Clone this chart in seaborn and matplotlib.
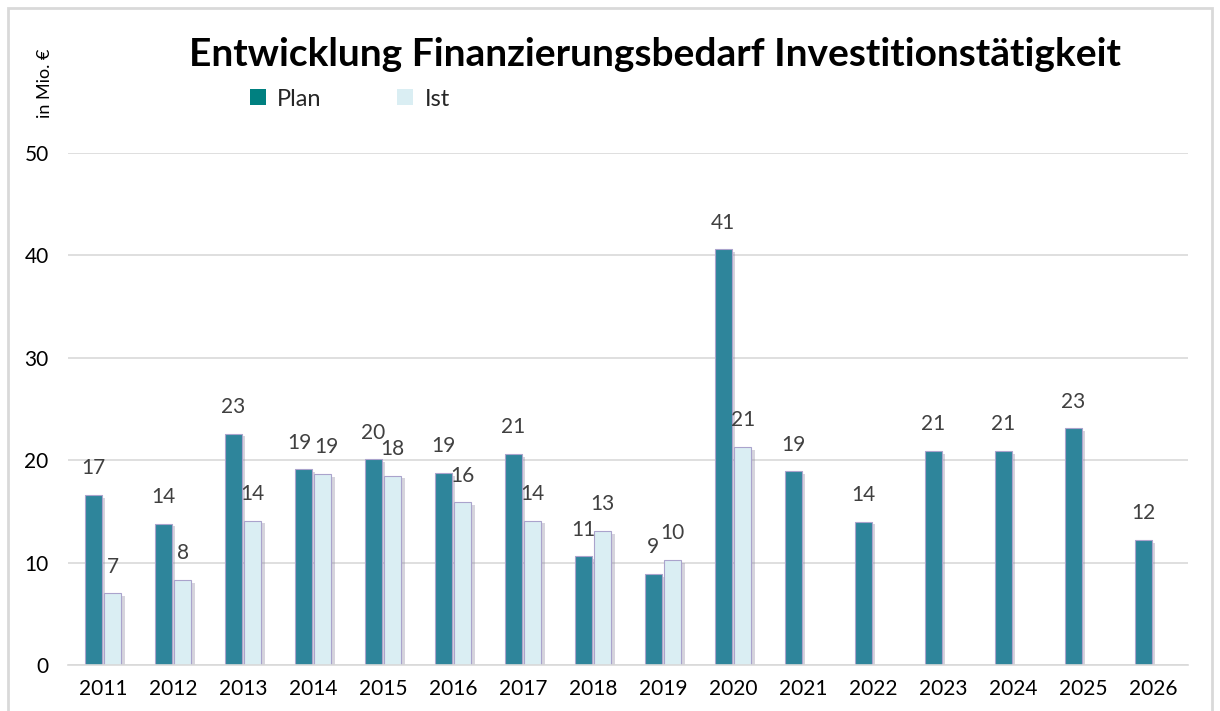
import matplotlib
matplotlib.use("Agg")
import matplotlib.pyplot as plt
import matplotlib.patheffects as pe
from matplotlib.patches import Rectangle, Patch
import seaborn as sns
import pandas as pd
import numpy as np

years = ["2011", "2012", "2013", "2014", "2015", "2016", "2017", "2018",
         "2019", "2020", "2021", "2022", "2023", "2024", "2025", "2026"]
plan = [16.6, 13.8, 22.6, 19.1, 20.1, 18.75, 20.6, 10.6, 8.9, 40.6,
        18.9, 14.0, 20.9, 20.9, 23.1, 12.2]
ist = [7.0, 8.3, 14.1, 18.65, 18.5, 15.9, 14.1, 13.1, 10.25, 21.3,
       np.nan, np.nan, np.nan, np.nan, np.nan, np.nan]
series = ["Plan", "Ist"]
colors = {"Plan": "#2e859b", "Ist": "#daeef3"}
legend_colors = {"Plan": "#008080", "Ist": "#daeef3"}

df = pd.DataFrame({
    "Jahr": years * 2,
    "Wert": plan + ist,
    "Serie": ["Plan"] * len(years) + ["Ist"] * len(years),
})

sns.set_theme(style="white")
plt.rcParams["font.family"] = ["Lato", "DejaVu Sans"]

fig = plt.figure(figsize=(12.2, 7.11), dpi=100)
ax = fig.add_axes([68 / 1220, 1 - 665 / 711, 1120 / 1220, 512 / 711])

sns.barplot(data=df, x="Jahr", y="Wert", hue="Serie", hue_order=series,
            palette=colors, saturation=1, width=0.55, gap=0.12, ax=ax, legend=False,
            edgecolor="#aaa3cc", linewidth=0.8)

shadow = [pe.SimplePatchShadow(offset=(2.5, -2), shadow_rgbFace="#8a86a0", alpha=0.35), pe.Normal()]
for k, (container, vals) in enumerate(zip(ax.containers, [plan, ist])):
    for i, (bar, v) in enumerate(zip(container, vals)):
        if np.isnan(v):
            continue
        bar.set_path_effects(shadow)
        dx = 0
        if not np.isnan(ist[i]) and abs(plan[i] - ist[i]) < 1.0:
            dx = -3 if k == 0 else 3
        ax.annotate(f"{v:.0f}", (bar.get_x() + bar.get_width() / 2, v),
                    xytext=(dx, 12), textcoords="offset points",
                    ha="center", va="bottom", fontsize=15, color="#404040")

ax.set_ylim(0, 50)
ax.set_xlim(-0.5, len(years) - 0.5)
ax.set_yticks([0, 10, 20, 30, 40, 50])
ax.yaxis.grid(True, color="#d9d9d9", linewidth=1.2)
ax.set_axisbelow(True)
for s in ["top", "right", "left"]:
    ax.spines[s].set_visible(False)
ax.spines["bottom"].set_color("#d9d9d9")
ax.spines["bottom"].set_linewidth(1.2)
ax.tick_params(axis="both", length=0, labelsize=15, colors="#000000")
ax.tick_params(axis="y", pad=14)
ax.tick_params(axis="x", pad=10)
ax.set_xlabel("")
ax.set_ylabel("")

fig.text(45 / 1220, 1 - 83 / 711, "in Mio. €", rotation=90, ha="center",
         va="center", fontsize=13, color="#000000")
fig.text(655 / 1220, 1 - 55 / 711, "Entwicklung Finanzierungsbedarf Investitionstätigkeit",
         ha="center", va="center", fontsize=28, fontweight="bold", color="#000000")

handles = [Patch(facecolor=legend_colors[s], edgecolor="none") for s in series]
fig.legend(handles, series, loc="center", bbox_to_anchor=(350 / 1220, 1 - 99 / 711),
           ncol=2, frameon=False, fontsize=17, handlelength=0.65, handleheight=0.65,
           columnspacing=3.2, handletextpad=0.5)

fig.patches.append(Rectangle((8 / 1220, -0.01), 1204 / 1220, 1 - 8 / 711 + 0.01,
                             transform=fig.transFigure, fill=False,
                             edgecolor="#d9d9d9", linewidth=2))

fig.savefig("out.png", dpi=100)
